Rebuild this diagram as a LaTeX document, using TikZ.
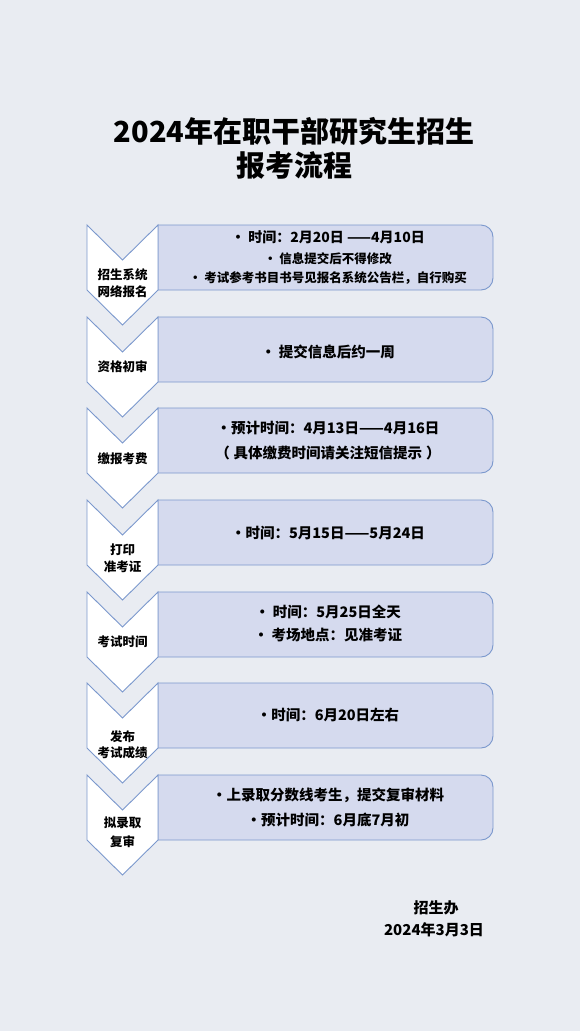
\documentclass[tikz,border=0pt]{standalone}
\usepackage{fontspec}
\setmainfont{Noto Sans CJK SC}
\definecolor{bgcol}{HTML}{E9ECF2}
\definecolor{boxfill}{HTML}{D5DAEE}
\definecolor{edgecol}{HTML}{7B98CD}
\newcommand\mkstage[1]{%
  \fill[boxfill,draw=edgecol,line width=0.9pt] (158,#1) [rounded corners=12pt] -- (493,#1) -- (493,#1+65) [sharp corners] -- (158,#1+65) -- cycle;
  \filldraw[fill=white,draw=edgecol,line width=0.9pt,line join=miter] (87,#1) -- (122.5,#1+35) -- (158,#1) -- (158,#1+65) -- (122.5,#1+100) -- (87,#1+65) -- cycle;
}
\begin{document}
\begin{tikzpicture}[x=1pt,y=-1pt,
  boxtxt/.style={font=\bfseries\fontsize{14.5}{17}\selectfont,inner sep=0pt,anchor=center},
  smalltxt/.style={font=\bfseries\fontsize{12.5}{15}\selectfont,inner sep=0pt,anchor=center},
  lbl/.style={font=\bfseries\fontsize{12.5}{15}\selectfont,inner sep=0pt,anchor=center},
  title/.style={font=\bfseries\fontsize{29}{35}\selectfont,inner sep=0pt,anchor=center},
  foot/.style={font=\bfseries\fontsize{15}{18}\selectfont,inner sep=0pt,anchor=center}]
\fill[bgcol] (0,0) rectangle (580,1031);
\useasboundingbox (0,0) rectangle (580,1031);

\node[title] (t1) at (294,131) {2024年在职干部研究生招生};
\node[title] (t2) at (294,166) {报考流程};

\mkstage{225}
\mkstage{317}
\mkstage{408}
\mkstage{500}
\mkstage{592}
\mkstage{683}
\mkstage{775}

% stage 1
\node[lbl] (l1a) at (122.5,275) {招生系统};
\node[lbl] (l1b) at (122.5,292) {网络报名};
\node[boxtxt,font=\bfseries\fontsize{14}{17}\selectfont] (b1a) at (328,237) {• 时间：2月20日 ——4月10日};
\node[smalltxt] (b1b) at (328,259) {• 信息提交后不得修改};
\node[smalltxt] (b1c) at (328,278) {• 考试参考书目书号见报名系统公告栏，自行购买};
% stage 2
\node[lbl] (l2) at (122.5,367) {资格初审};
\node[boxtxt] (b2) at (328,352) {• 提交信息后约一周};
% stage 3
\node[lbl] (l3) at (122.5,459) {缴报考费};
\node[boxtxt] (b3a) at (328,428) {•预计时间：4月13日——4月16日};
\node[boxtxt] (b3b) at (328,453) {（\hspace{4pt}具体缴费时间请关注短信提示\hspace{4pt}）};
% stage 4
\node[lbl] (l4a) at (122.5,550) {打印};
\node[lbl] (l4b) at (122.5,567) {准考证};
\node[boxtxt] (b4) at (328,533) {•时间：5月15日——5月24日};
% stage 5
\node[lbl] (l5) at (122.5,642) {考试时间};
\node[boxtxt] (b5a) at (328,612) {• 时间：5月25日全天};
\node[boxtxt] (b5b) at (328,635) {• 考场地点：见准考证};
% stage 6
\node[lbl] (l6a) at (122.5,737) {发布};
\node[lbl] (l6b) at (122.5,753) {考试成绩};
\node[boxtxt] (b6) at (328,715) {•时间：6月20日左右};
% stage 7
\node[lbl] (l7a) at (122.5,823) {拟录取};
\node[lbl] (l7b) at (122.5,842) {复审};
\node[boxtxt] (b7a) at (328,795) {•上录取分数线考生，提交复审材料};
\node[boxtxt] (b7b) at (328,820) {•预计时间：6月底7月初};

% footer
\node[foot] (f1) at (436,908) {招生办};
\node[foot] (f2) at (434,930) {2024年3月3日};
\end{tikzpicture}
\end{document}
